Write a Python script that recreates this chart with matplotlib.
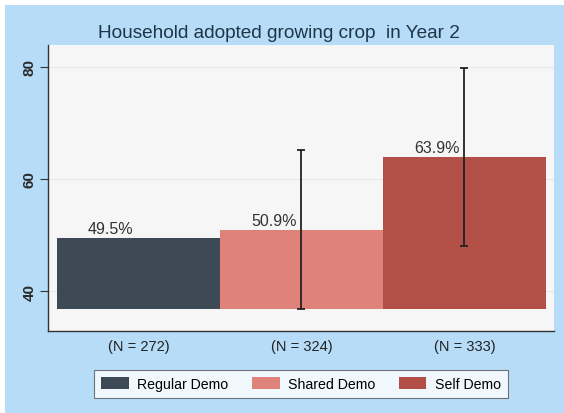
import matplotlib.pyplot as plt
from matplotlib.patches import Rectangle

plt.rcParams['font.family'] = ['Liberation Sans', 'DejaVu Sans']

groups = ["Regular Demo", "Shared Demo", "Self Demo"]
n_labels = ["(N = 272)", "(N = 324)", "(N = 333)"]
shares = [49.5, 50.9, 63.9]
ci_low = [None, 36.8, 48.0]
ci_high = [None, 65.2, 79.8]
colors = ["#3d4954", "#de827a", "#b25048"]

base = 36.8
blue = "#b6dcf8"

fig = plt.figure(figsize=(5.64, 4.14), dpi=100, facecolor="white")
# light blue graph region with a thin white strip at top and left
fig.patches.append(Rectangle((5 / 564, 0), 1, 1 - 6 / 414, transform=fig.transFigure,
                             facecolor=blue, edgecolor="none", zorder=-10))

ax = fig.add_axes([48 / 564, 1 - 332 / 414, 506 / 564, 286 / 414])
ax.set_facecolor("#f6f6f6")

x = list(range(len(groups)))
ax.bar(x, [v - base for v in shares], bottom=base, width=1.0,
       color=colors, edgecolor="none", zorder=2)

for i in x:
    if ci_low[i] is not None:
        ax.errorbar(i, shares[i], yerr=[[shares[i] - ci_low[i]], [ci_high[i] - shares[i]]],
                    fmt="none", ecolor="#222222", elinewidth=1.3, capsize=3, capthick=1.3, zorder=3)
    ax.text(i - 0.17, shares[i] + 0.3, f"{shares[i]:.1f}%", ha="center", va="bottom",
            fontsize=11.5, color="#333333", zorder=4)

ax.set_xlim(-0.555, 2.55)
ax.set_ylim(32.9, 83.9)
ax.set_yticks([40, 60, 80])
ax.set_yticklabels(["40", "60", "80"], rotation=90, va="center", fontsize=11,
                   fontweight="bold", color="#2a2a2a")
ax.set_xticks(x)
ax.set_xticklabels(n_labels, fontsize=10.5, color="#222222")
ax.tick_params(axis="x", length=0, pad=6)
ax.tick_params(axis="y", length=6, width=0.8, color="#333333", pad=2)
ax.yaxis.grid(True, color="#e8e8e8", linewidth=0.8, zorder=0)
ax.set_axisbelow(True)

for s in ["top", "right"]:
    ax.spines[s].set_visible(False)
for s in ["left", "bottom"]:
    ax.spines[s].set_color("#333333")
    ax.spines[s].set_linewidth(1.0)

fig.text(0.495, 1 - 34 / 414, "Household adopted growing crop  in Year 2", ha="center", va="center",
         fontsize=13.7, color="#1e3548")

handles = [Rectangle((0, 0), 1, 1, facecolor=c, edgecolor="none") for c in colors]
leg = fig.legend(handles, groups, loc="center", bbox_to_anchor=(301 / 564, 1 - 385 / 414), ncol=3,
                 fontsize=10.2, frameon=True, fancybox=False, edgecolor="#555555",
                 handlelength=1.95, handleheight=0.95, columnspacing=1.65, handletextpad=0.6,
                 borderpad=0.5)
leg.get_frame().set_facecolor("white")
leg.get_frame().set_linewidth(0.8)

fig.savefig("out.png", dpi=100, facecolor=fig.get_facecolor())
